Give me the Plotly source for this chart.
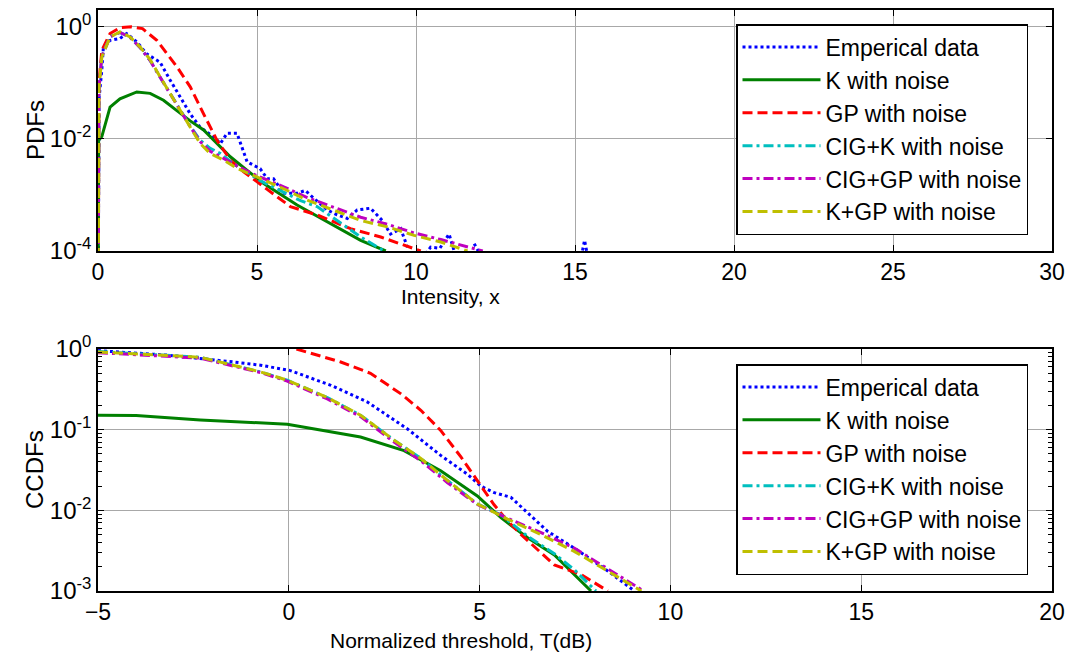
import plotly.graph_objects as go

# ---------------- PDFs (top panel) ----------------
pdf_emp_x = [0.0, 0.03, 0.12, 0.17, 0.38, 0.69, 0.9, 1.22, 1.53, 1.95, 2.27, 2.58, 2.9, 3.21, 3.63, 3.85,
             4.06, 4.37, 4.53, 4.69, 5.1, 5.32, 5.52, 5.84, 6.26, 6.52, 6.79, 7.21, 7.52, 7.84, 8.15, 8.57,
             8.94, 9.2, 9.52, 9.73, 9.85, 10.3, 10.46, 10.75, 11.04, 11.2, 11.5, 11.83, 12.0, 12.2,
             15.2, 15.3, 15.4]
pdf_emp_y = [1e-6, 0.05, 0.17, 0.44, 0.575, 0.62, 0.76, 0.54, 0.33, 0.234, 0.112, 0.056, 0.028, 0.0162,
             0.011, 0.0083, 0.0126, 0.0126, 0.0072, 0.0039, 0.00295, 0.00195, 0.00195, 0.00107, 0.00107,
             0.0012, 0.00087, 0.00054, 0.00044, 0.00038, 0.00054, 0.00058, 0.00035, 0.0002, 0.00025,
             0.000117, None, 0.000089, 0.000117, 0.000112, 0.0002, 0.0001, None, 0.000135, 0.00009, None,
             0.00008, 0.000155, 0.00008]

pdf_k_x = [0.0, 0.02, 0.12, 0.38, 0.69, 1.22, 1.64, 2.06, 2.48, 2.9, 3.32, 3.74, 4.16, 4.69, 5.21, 6.26,
           7.42, 8.26, 9.05]
pdf_k_y = [1e-6, 0.0095, 0.011, 0.037, 0.052, 0.069, 0.065, 0.049, 0.032, 0.021, 0.0145, 0.0083, 0.0048,
           0.00275, 0.0016, 0.00066, 0.00029, 0.000155, 0.0001]

pdf_gp_x = [0.0, 0.03, 0.12, 0.38, 0.7, 1.05, 1.4, 1.85, 2.48, 2.9, 3.32, 3.74, 4.16, 4.58, 5.32, 6.05,
            6.89, 7.94, 8.89, 9.52, 10.15]
pdf_gp_y = [1e-6, 0.1, 0.38, 0.76, 0.97, 1.0, 0.93, 0.575, 0.195, 0.085, 0.028, 0.0095, 0.0042, 0.0026,
            0.00126, 0.00062, 0.00044, 0.00025, 0.000178, 0.000135, 0.0001]

pdf_cigk_x = [0.0, 0.03, 0.12, 0.38, 0.69, 1.01, 1.32, 1.64, 1.95, 2.27, 2.58, 2.9, 3.21, 3.53, 3.85, 4.26,
              5.1, 6.37, 6.89, 7.63, 8.26, 9.0]
pdf_cigk_y = [1e-6, 0.08, 0.3, 0.67, 0.8, 0.65, 0.43, 0.25, 0.127, 0.064, 0.032, 0.017, 0.0095, 0.0068,
              0.0055, 0.0036, 0.0018, 0.00079, 0.00062, 0.00031, 0.000178, 0.0001]

pdf_ciggp_x = [0.0, 0.03, 0.12, 0.38, 0.69, 1.01, 1.32, 1.64, 1.95, 2.27, 2.58, 2.9, 3.21, 3.53, 3.95, 4.37,
               5.0, 5.84, 6.58, 7.42, 8.26, 9.1, 9.94, 10.78, 11.62, 12.1]
pdf_ciggp_y = [1e-6, 0.08, 0.3, 0.66, 0.8, 0.65, 0.43, 0.25, 0.127, 0.064, 0.032, 0.0165, 0.009, 0.006,
               0.0045, 0.0033, 0.0022, 0.0014, 0.0009, 0.0006, 0.0004, 0.0003, 0.00021, 0.00016, 0.000118,
               0.0001]

pdf_kgp_x = [0.0, 0.03, 0.12, 0.38, 0.69, 1.01, 1.32, 1.64, 1.95, 2.27, 2.58, 2.9, 3.21, 3.53, 3.95, 4.37,
             5.0, 5.84, 6.58, 7.42, 8.26, 9.1, 9.94, 10.78, 11.62]
pdf_kgp_y = [1e-6, 0.08, 0.29, 0.66, 0.81, 0.66, 0.44, 0.26, 0.129, 0.065, 0.032, 0.0162, 0.0083, 0.0055,
             0.0042, 0.003, 0.0021, 0.00129, 0.00081, 0.00054, 0.00035, 0.00027, 0.00019, 0.000145, 0.0001]

# ---------------- CCDFs (bottom panel) ----------------
ccdf_emp_x = [-5, -3.2, -1.44, -0.74, 0.04, 1.1, 2.06, 3.11, 3.98, 4.68, 5.03, 5.38, 5.82, 6.25, 6.78,
              7.48, 8.27, 9.06]
ccdf_emp_y = [0.955, 0.84, 0.69, 0.63, 0.54, 0.355, 0.22, 0.102, 0.048, 0.028, 0.02, 0.0166, 0.0145,
              0.0093, 0.0055, 0.0034, 0.0019, 0.001]

ccdf_k_x = [-5, -4, -2.32, -0.04, 1.88, 3.02, 3.98, 4.94, 5.56, 6.25, 6.96, 7.92]
ccdf_k_y = [0.151, 0.15, 0.132, 0.117, 0.081, 0.055, 0.031, 0.0151, 0.0081, 0.0046, 0.0028, 0.001]

ccdf_gp_x = [0.2, 1.36, 2.14, 2.93, 3.46, 3.98, 4.51, 4.94, 5.38, 5.73, 6.09, 6.96, 7.66, 8.36]
ccdf_gp_y = [1.0, 0.69, 0.5, 0.28, 0.174, 0.098, 0.046, 0.0234, 0.0117, 0.0074, 0.005, 0.0021, 0.0016,
             0.001]

ccdf_cigk_x = [-5, -2.32, -0.74, -0.04, 1.01, 1.88, 2.76, 3.46, 4.16, 4.94, 5.56, 6.25, 6.96, 7.5, 8.05]
ccdf_cigk_y = [0.93, 0.79, 0.52, 0.41, 0.25, 0.151, 0.074, 0.044, 0.0234, 0.012, 0.0088, 0.0048, 0.0029,
               0.0018, 0.001]

ccdf_ciggp_x = [-5, -2.32, -0.74, -0.04, 1.01, 1.88, 2.76, 3.46, 4.16, 4.94, 5.73, 6.61, 7.48, 8.36, 9.3]
ccdf_ciggp_y = [0.9, 0.77, 0.51, 0.4, 0.24, 0.145, 0.07, 0.041, 0.022, 0.0118, 0.008, 0.0053, 0.0034,
                0.0019, 0.001]

ccdf_kgp_x = [-5, -2.32, -0.74, -0.04, 1.01, 1.88, 2.76, 3.46, 4.16, 4.94, 5.73, 6.61, 7.48, 8.36, 9.24]
ccdf_kgp_y = [0.92, 0.79, 0.52, 0.41, 0.25, 0.151, 0.074, 0.044, 0.0234, 0.012, 0.0078, 0.005, 0.0031,
              0.00174, 0.001]

series_names = ["Emperical data", "K with noise", "GP with noise",
                "CIG+K with noise", "CIG+GP with noise", "K+GP with noise"]
series_colors = ["#0000FF", "#008000", "#FF0000", "#00BFBF", "#BF00BF", "#BFBF00"]
series_dashes = ["3px,3px", "solid", "10px,5px", "10px,4px,3px,4px", "10px,4px,3px,4px", "10px,5px"]

top_x_ticks = [0, 5, 10, 15, 20, 25, 30]
top_y_ticks = [1e-4, 1e-2, 1e0]
top_y_labels = ["10<sup>-4</sup>", "10<sup>-2</sup>", "10<sup>0</sup>"]
bot_x_ticks = [-5, 0, 5, 10, 15, 20]
bot_y_ticks = [1e-3, 1e-2, 1e-1, 1e0]
bot_y_labels = ["10<sup>-3</sup>", "10<sup>-2</sup>", "10<sup>-1</sup>", "10<sup>0</sup>"]

FONT = "Liberation Sans, Arial, sans-serif"
W, H = 1070, 657
ML, MR, MT, MB = 98, 18, 10, 66
PW, PH = W - ML - MR, H - MT - MB


def px_x(p):
    return (p - ML) / PW


def px_y(p):
    return 1 - (p - MT) / PH


fig = go.Figure()

top_sets = [(pdf_emp_x, pdf_emp_y), (pdf_k_x, pdf_k_y), (pdf_gp_x, pdf_gp_y),
            (pdf_cigk_x, pdf_cigk_y), (pdf_ciggp_x, pdf_ciggp_y), (pdf_kgp_x, pdf_kgp_y)]
bot_sets = [(ccdf_emp_x, ccdf_emp_y), (ccdf_k_x, ccdf_k_y), (ccdf_gp_x, ccdf_gp_y),
            (ccdf_cigk_x, ccdf_cigk_y), (ccdf_ciggp_x, ccdf_ciggp_y), (ccdf_kgp_x, ccdf_kgp_y)]

for i, (xs, ys) in enumerate(top_sets):
    fig.add_trace(go.Scatter(x=xs, y=ys, mode="lines", name=series_names[i],
                             line=dict(color=series_colors[i], width=3, dash=series_dashes[i]),
                             xaxis="x", yaxis="y", legend="legend", connectgaps=False))
for i, (xs, ys) in enumerate(bot_sets):
    fig.add_trace(go.Scatter(x=xs, y=ys, mode="lines", name=series_names[i],
                             line=dict(color=series_colors[i], width=3, dash=series_dashes[i]),
                             xaxis="x2", yaxis="y2", legend="legend2"))

top_frac = (251 - MT) / PH
bot_frac = (591 - 349) / PH


def axis_style(size):
    return dict(showline=True, linecolor="black", linewidth=1.5, mirror="allticks",
                ticks="inside", ticklen=6, tickcolor="black", showgrid=True,
                gridcolor="#a8a8a8", gridwidth=1, zeroline=False, automargin=False,
                tickfont=dict(family=FONT, size=size, color="black"))


legend_style = dict(xanchor="left", yanchor="top", bgcolor="white", bordercolor="black",
                    borderwidth=1.5, font=dict(family=FONT, size=23, color="black"),
                    itemwidth=78, tracegroupgap=0)

fig.update_layout(
    template="none",
    width=W, height=H,
    margin=dict(l=ML, r=MR, t=MT, b=MB, autoexpand=False),
    paper_bgcolor="white", plot_bgcolor="white",
    xaxis=dict(domain=[0, 1], anchor="y", range=[0, 30], tickvals=top_x_ticks, **axis_style(23)),
    yaxis=dict(domain=[1 - top_frac, 1], anchor="x", type="log", range=[-4, 0.301],
               tickvals=top_y_ticks, ticktext=top_y_labels, **axis_style(24)),
    xaxis2=dict(domain=[0, 1], anchor="y2", range=[-5, 20], tickvals=bot_x_ticks, **axis_style(23)),
    yaxis2=dict(domain=[0, bot_frac], anchor="x2", type="log", range=[-3, 0],
                tickvals=bot_y_ticks, ticktext=bot_y_labels,
                minor=dict(ticks="inside", ticklen=4, tickcolor="black", showgrid=False,
                           dtick="D1"),
                **axis_style(24)),
    legend=dict(x=px_x(736), y=px_y(24), **legend_style),
    legend2=dict(x=px_x(736), y=px_y(364), **legend_style),
    showlegend=True,
)

title_font = dict(family=FONT, size=21, color="black")
side_font = dict(family=FONT, size=24, color="black")
fig.add_annotation(text="PDFs", x=px_x(35), y=px_y(130), xref="paper", yref="paper",
                   xanchor="center", yanchor="middle", textangle=-90, showarrow=False, font=side_font)
fig.add_annotation(text="CCDFs", x=px_x(35), y=px_y(470), xref="paper", yref="paper",
                   xanchor="center", yanchor="middle", textangle=-90, showarrow=False, font=side_font)
fig.add_annotation(text="Intensity, x", x=px_x(450), y=px_y(297), xref="paper", yref="paper",
                   xanchor="center", yanchor="middle", showarrow=False, font=title_font)
fig.add_annotation(text="Normalized threshold, T(dB)", x=px_x(461), y=px_y(640), xref="paper",
                   yref="paper", xanchor="center", yanchor="middle", showarrow=False, font=title_font)

fig.write_html("out.html")
